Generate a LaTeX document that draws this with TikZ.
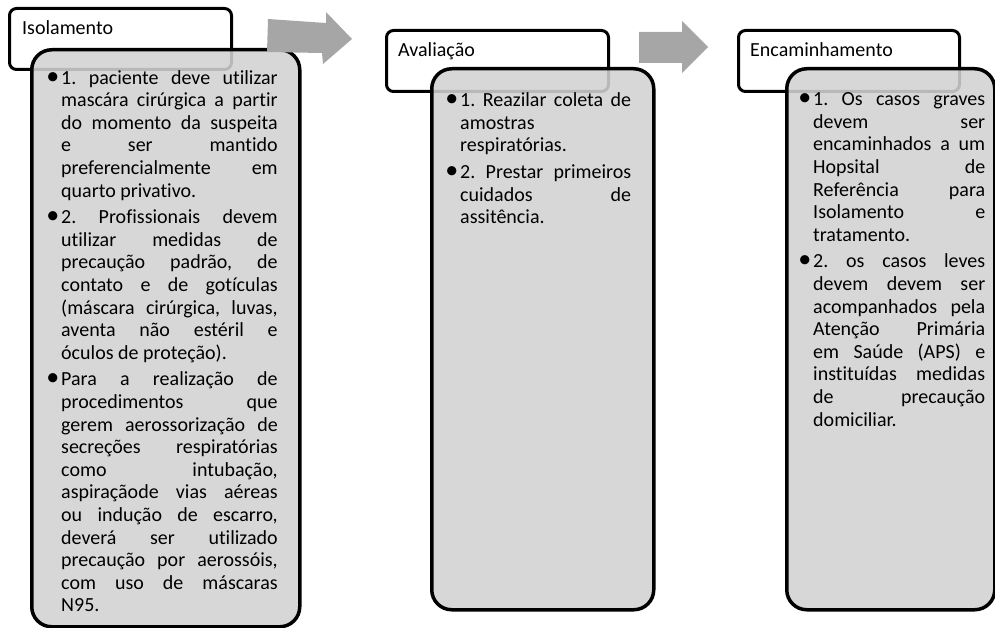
\documentclass[tikz,border=0pt]{standalone}
\usepackage{fontspec}
\setmainfont[Ligatures=NoCommon]{Carlito}
\usetikzlibrary{calc}

\definecolor{bodygray}{RGB}{210,210,210}
\definecolor{arrowgray}{RGB}{166,166,166}

\newcommand{\bodyfont}{\fontsize{20}{22.6}\selectfont\frenchspacing\tolerance=10000\relax\hyphenpenalty=10000\relax\parskip=4pt\relax}
\newcommand{\bitem}[1]{\noindent\rule{0pt}{15pt}\llap{\scalebox{1.3}{•}\hspace{2pt}}#1\par}

\begin{document}
\begin{tikzpicture}[x=1pt, y=-1pt,
    headbox/.style={draw, line width=3pt, rounded corners=7pt, fill=white, anchor=north west, inner sep=0pt, minimum width=222pt, minimum height=61pt},
    bodybox/.style={draw, line width=3.5pt, rounded corners=20pt, fill=bodygray, fill opacity=0.88, anchor=north west, inner sep=0pt},
    headtext/.style={anchor=base west, inner sep=0pt, font=\fontsize{20}{22.6}\selectfont},
    bodytext/.style={anchor=north west, inner sep=0pt, align=justify, font=\bodyfont},
    arrowfill/.style={fill=arrowgray}]
    \useasboundingbox (0,0) rectangle (995,628);

    \node[headbox] (hIso) at (8,7) {};
    \node[headbox] (hAva) at (385,29) {};
    \node[headbox, minimum width=221pt] (hEnc) at (737,29) {};

    \node[bodybox, minimum width=268pt, minimum height=577pt] (bIso) at (30,48) {};
    \node[bodybox, minimum width=222pt, minimum height=541pt] (bAva) at (430,67) {};
    \node[bodybox, minimum width=208pt, minimum height=541pt] (bEnc) at (785,67) {};

    \node[headtext] (tIso) at ($(hIso.north west)+(14,28)$) {Isolamento};
    \node[headtext] (tAva) at ($(hAva.north west)+(13,27.5)$) {Avaliação};
    \node[headtext] (tEnc) at ($(hEnc.north west)+(13,27.5)$) {Encaminhamento};

    \node[bodytext, text width=216.5pt] (lIso) at (61,69) {%
        \bitem{1. paciente deve utilizar\linebreak mascára cirúrgica a partir\linebreak do momento da suspeita\linebreak e ser mantido\linebreak preferencialmente em\linebreak quarto privativo.}
        \bitem{2. Profissionais devem\linebreak utilizar medidas de\linebreak precaução padrão, de\linebreak contato e de gotículas\linebreak (máscara cirúrgica, luvas,\linebreak aventa não estéril e\linebreak óculos de proteção).}
        \bitem{Para a realização de\linebreak procedimentos que\linebreak gerem aerossorização de\linebreak secreções respiratórias\linebreak como intubação,\linebreak aspiraçãode vias aéreas\linebreak ou indução de escarro,\linebreak deverá ser utilizado\linebreak precaução por aerossóis,\linebreak com uso de máscaras\linebreak N95.}};
    \node[bodytext, text width=171pt] (lAva) at (460,91.5) {%
        \bitem{1. Reazilar coleta de\linebreak amostras\linebreak respiratórias.}
        \bitem{2. Prestar primeiros\linebreak cuidados de\linebreak assitência.}};
    \node[bodytext, text width=172pt] (lEnc) at (813,90.5) {%
        \bitem{1. Os casos graves\linebreak devem ser\linebreak encaminhados a um\linebreak Hopsital de\linebreak Referência para\linebreak Isolamento e\linebreak tratamento.}
        \bitem{2. os casos leves\linebreak devem devem ser\linebreak acompanhados pela\linebreak Atenção Primária\linebreak em Saúde (APS) e\linebreak instituídas medidas\linebreak de precaução\linebreak domiciliar.}};

    \fill[arrowfill] (268,19) -- (326,23) -- (326,12) -- (352,39) -- (323,64) -- (322,53) -- (267,52) -- cycle;
    \fill[arrowfill] (639,32) -- (682,32) -- (682,21) -- (708,47) -- (682,73) -- (682,63) -- (639,63) -- cycle;
\end{tikzpicture}
\end{document}
